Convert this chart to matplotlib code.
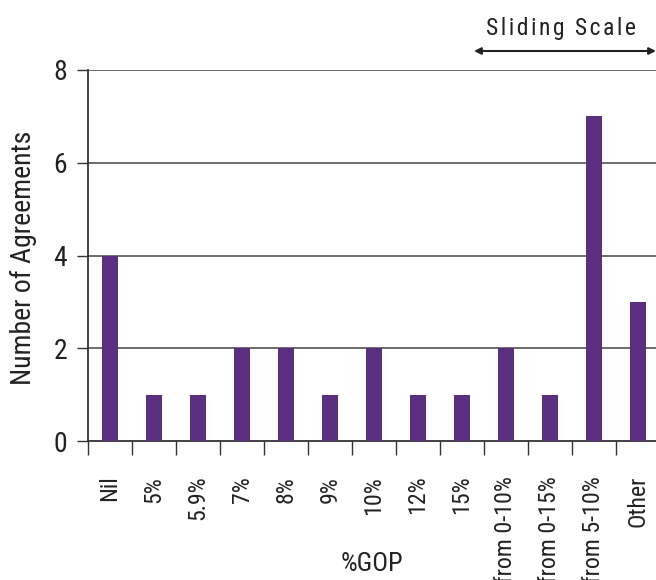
import matplotlib
matplotlib.use("Agg")
import matplotlib.pyplot as plt
from matplotlib import font_manager
import numpy as np

categories = ["Nil", "5%", "5.9%", "7%", "8%", "9%", "10%", "12%", "15%",
              "from 0-10%", "from 0-15%", "from 5-10%", "Other"]
agreements = [4, 1, 1, 2, 2, 1, 2, 1, 1, 2, 1, 7, 3]
y_ticks = [0, 2, 4, 6, 8]

# prefer a condensed face, fall back to regular sans
installed = {f.name for f in font_manager.fontManager.ttflist}
wanted = ["Roboto Condensed", "Liberation Sans Narrow", "Open Sans Condensed",
          "Roboto", "Liberation Sans", "DejaVu Sans"]
families = [f for f in wanted if f in installed] or ["DejaVu Sans"]
plt.rcParams["font.family"] = families

W, H = 656, 580
fig = plt.figure(figsize=(W / 100, H / 100), dpi=100)

# axes placed in pixel units: left 88, right 660, top 70, bottom 441
left, right, top, bottom = 88, 660, 70, 441
ax = fig.add_axes([left / W, (H - bottom) / H, (right - left) / W, (bottom - top) / H])

x = np.arange(len(categories))
bar_color = "#5a2f7f"
ax.bar(x, agreements, width=0.36, color=bar_color, zorder=3)

ax.set_xlim(-0.5, len(categories) - 0.5)
ax.set_ylim(0, 8)

ax.set_yticks(y_ticks)
ax.set_yticklabels([str(t) for t in y_ticks], fontsize=20, color="#222222")
ax.tick_params(axis="y", length=8, width=1, color="#333333", pad=7)

# boundary ticks as major, labels on minor at category centres
ax.set_xticks(np.arange(-0.5, len(categories), 1.0))
ax.set_xticklabels([])
ax.tick_params(axis="x", which="major", length=10, width=1, color="#333333")
ax.set_xticks(x, minor=True)
ax.set_xticklabels(categories, minor=True, rotation=90, fontsize=17.2,
                   color="#222222", va="top")
ax.tick_params(axis="x", which="minor", length=0, pad=25)

for yv in y_ticks[1:]:
    ax.axhline(yv, color="#444444", linewidth=1.1, zorder=1)

for side in ["top", "right"]:
    ax.spines[side].set_visible(False)
for side in ["left", "bottom"]:
    ax.spines[side].set_color("#333333")
    ax.spines[side].set_linewidth(1.3)

fig.text(23 / W, 1 - 258 / H, "Number of Agreements", rotation=90,
         ha="center", va="center", fontsize=20, color="#222222")
fig.text(372 / W, 1 - 564 / H, "%GOP", ha="center", va="center",
         fontsize=19, color="#222222")

# sliding scale annotation above the last categories
ax.annotate("", xy=(656 / W, 1 - 51 / H), xytext=(474 / W, 1 - 51 / H),
            xycoords="figure fraction", textcoords="figure fraction",
            arrowprops=dict(arrowstyle="<|-|>", color="#222222", lw=1.5,
                            mutation_scale=10, shrinkA=0, shrinkB=0),
            annotation_clip=False)
fig.text(561 / W, 1 - 28 / H, "\u200a".join("Sliding Scale"),
         ha="center", va="center", fontsize=17, color="#222222")

fig.savefig("out.png", dpi=100)
